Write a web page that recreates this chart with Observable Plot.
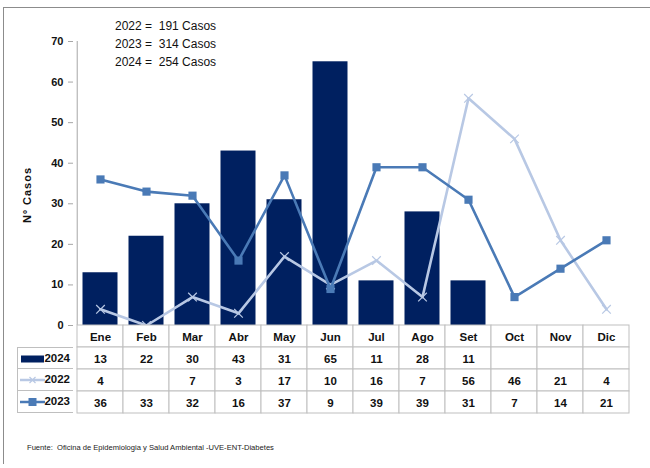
<!DOCTYPE html>
<html>
<head>
<meta charset="utf-8">
<script src="https://cdn.jsdelivr.net/npm/d3@7"></script>
<script src="https://cdn.jsdelivr.net/npm/@observablehq/plot@0.6"></script>
<style>
  html, body { margin: 0; padding: 0; background: #fff; }
  body { font-family: "Liberation Sans", Arial, sans-serif; }
  #wrap { position: relative; width: 650px; height: 468px; overflow: hidden; }
  #border { position: absolute; left: 3px; top: 7px; width: 660px; height: 456px;
            border-top: 1.5px solid #8c8c8c; border-left: 1.5px solid #8c8c8c; }
  .abs { position: absolute; }
  #totals { left: 115px; top: 17px; font-size: 12px; line-height: 18px; white-space: pre; color: #111; }
  #ylabel { left: 27px; top: 195px; transform: translate(-50%, -50%) rotate(-90deg);
            font-size: 11px; font-weight: bold; letter-spacing: 1px; white-space: nowrap; color: #111; }
  #caption { left: 27px; top: 443px; font-size: 7.6px; color: #222; white-space: pre; }
  #legend { left: 17px; width: 56px; }
  .lrow { position: relative; box-sizing: border-box; width: 56px; height: 22px;
          border-left: 1px solid #bfbfbf; border-bottom: 1px solid #bfbfbf; }
  .lrow:first-child { border-top: 1px solid #bfbfbf; }
  .lrow svg { position: absolute; left: 2px; top: 6px; }
  .lrow span { position: absolute; right: 3px; top: 4px; font-size: 11.5px; font-weight: bold; color: #111; }
  svg.plot { background: transparent; }
  #p1 g[aria-label="y-axis tick"] { stroke: #a6a6a6; }
</style>
</head>
<body>
<div id="wrap">
  <div id="border"></div>
  <div id="p1" class="abs" style="left:0;top:0"></div>
  <div id="p2" class="abs" style="left:0;top:324px"></div>
  <div id="legend" class="abs"></div>
  <div id="totals" class="abs"></div>
  <div id="ylabel" class="abs"></div>
  <div id="caption" class="abs"></div>
</div>
<script>
// ---- data ----
const months = ["Ene","Feb","Mar","Abr","May","Jun","Jul","Ago","Set","Oct","Nov","Dic"];
const v2024 = [13, 22, 30, 43, 31, 65, 11, 28, 11, null, null, null];
const v2022 = [4, null, 7, 3, 17, 10, 16, 7, 56, 46, 21, 4];
const v2023 = [36, 33, 32, 16, 37, 9, 39, 39, 31, 7, 14, 21];
const seriesNames = ["2024", "2022", "2023"];
const totals = [["2022", 191], ["2023", 314], ["2024", 254]];
const yTicks = [0, 10, 20, 30, 40, 50, 60, 70];
const yLabel = "Nº Casos";
const caption = "Fuente:  Oficina de Epidemiologia y Salud Ambiental -UVE-ENT-Diabetes";

const colors = {"2024": "#002060", "2022": "#b8c8e4", "2023": "#4a7ab6"};

const rows = months.map((m, i) => ({month: m, v2024: v2024[i], v2022: v2022[i], v2023: v2023[i]}));

// ---- chart ----
const p1 = Plot.plot({
  width: 650, height: 340,
  marginTop: 41, marginBottom: 15, marginLeft: 73, marginRight: 18,
  style: {background: "transparent", fontFamily: "Liberation Sans, Arial, sans-serif"},
  x: {domain: months, padding: 0, axis: null},
  y: {domain: [0, 70], axis: null},
  marks: [
    Plot.axisY({ticks: yTicks, tickSize: 5, tickPadding: 5, fontSize: 11, fontWeight: "bold", fill: "#111", label: null}),
    Plot.ruleX(["Ene"], {y1: 0, y2: 70, dx: -(559 / 12) / 2, stroke: "#a6a6a6"}),
    Plot.barY(rows.filter(d => d.v2024 != null), {x: "month", y: "v2024", fill: colors["2024"], insetLeft: 5.5, insetRight: 5.5}),
    Plot.line(rows, {x: "month", y: d => d.v2022 ?? 0, stroke: colors["2022"], strokeWidth: 2.6}),
    Plot.dot(rows, {x: "month", y: d => d.v2022 ?? 0, symbol: "times", r: 4, stroke: colors["2022"], strokeWidth: 1.2}),
    Plot.line(rows, {x: "month", y: "v2023", stroke: colors["2023"], strokeWidth: 2.6}),
    Plot.dot(rows, {x: "month", y: "v2023", symbol: "square", r: 4.6, fill: colors["2023"], stroke: "none"})
  ]
});
document.getElementById("p1").appendChild(p1);

// ---- data table ----
const rowKeys = ["hdr", ...seriesNames];
const cells = [];
months.forEach((m, i) => {
  cells.push({month: m, row: "hdr", text: m});
  cells.push({month: m, row: "2024", text: v2024[i] == null ? "" : String(v2024[i])});
  cells.push({month: m, row: "2022", text: v2022[i] == null ? "" : String(v2022[i])});
  cells.push({month: m, row: "2023", text: v2023[i] == null ? "" : String(v2023[i])});
});
const p2 = Plot.plot({
  width: 650, height: 90,
  marginTop: 1, marginBottom: 1, marginLeft: 73, marginRight: 18,
  style: {background: "transparent", fontFamily: "Liberation Sans, Arial, sans-serif"},
  x: {domain: months, padding: 0, axis: null},
  y: {domain: rowKeys, padding: 0, axis: null},
  marks: [
    Plot.cell(cells, {x: "month", y: "row", fill: "white", stroke: "#bfbfbf", inset: 0}),
    Plot.text(cells, {x: "month", y: "row", text: "text", fontSize: 11.5, fontWeight: "bold", fill: "#111", dy: 1})
  ]
});
document.getElementById("p2").appendChild(p2);

// ---- legend column ----
const legend = document.getElementById("legend");
legend.style.top = (325 + 22) + "px";
const swatch = {
  "2024": `<svg width="26" height="10"><rect x="1" y="1.5" width="23" height="7" fill="${colors["2024"]}"/></svg>`,
  "2022": `<svg width="26" height="10"><line x1="0" y1="5" x2="25" y2="5" stroke="${colors["2022"]}" stroke-width="2.5"/><path d="M9.5,2L15.5,8M15.5,2L9.5,8" stroke="${colors["2022"]}" stroke-width="1.2"/></svg>`,
  "2023": `<svg width="26" height="10"><line x1="0" y1="5" x2="25" y2="5" stroke="${colors["2023"]}" stroke-width="2.5"/><rect x="8.5" y="1" width="8" height="8" fill="${colors["2023"]}"/></svg>`
};
seriesNames.forEach(s => {
  const r = document.createElement("div");
  r.className = "lrow";
  r.innerHTML = swatch[s] + `<span>${s}</span>`;
  legend.appendChild(r);
});

// ---- texts ----
document.getElementById("totals").textContent = totals.map(([y, n]) => `${y} =  ${n} Casos`).join("\n");
document.getElementById("ylabel").textContent = yLabel;
document.getElementById("caption").textContent = caption;
</script>
</body>
</html>
